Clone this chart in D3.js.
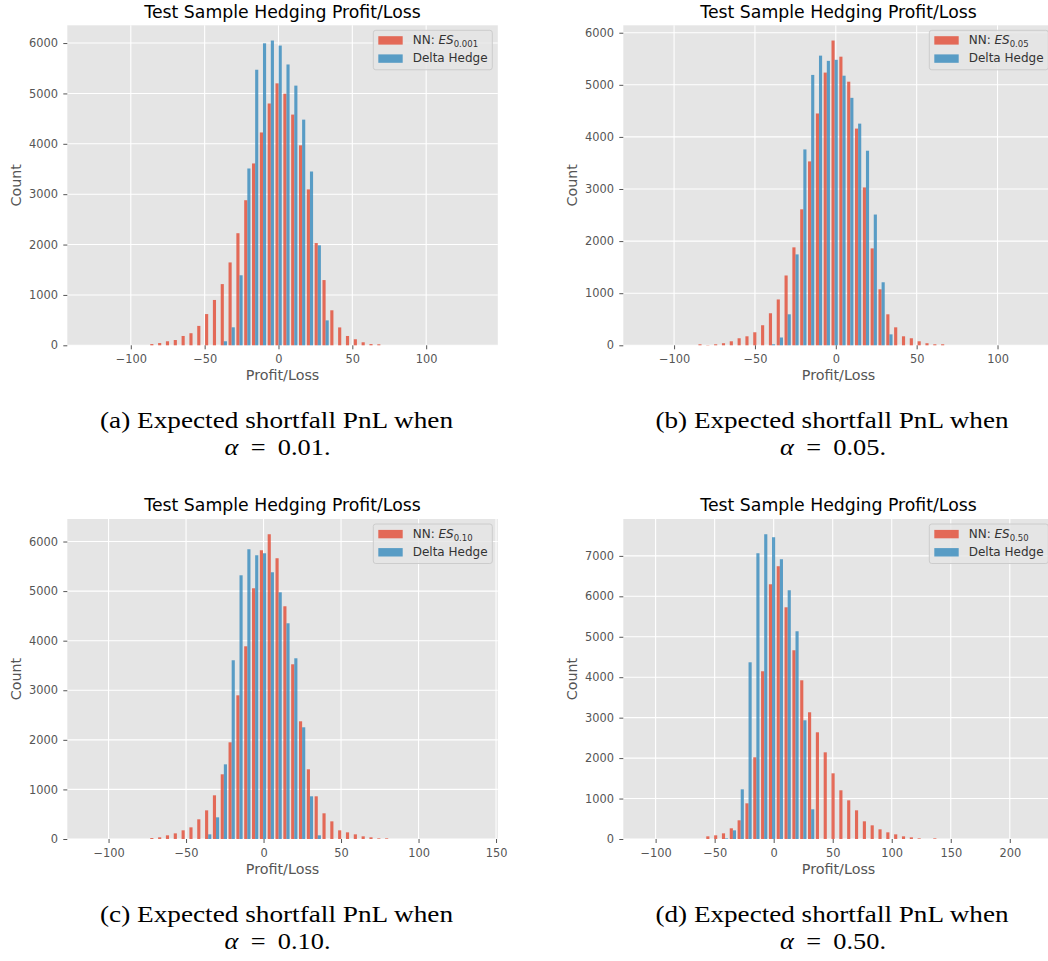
<!DOCTYPE html>
<html><head><meta charset="utf-8">
<script src="https://cdn.jsdelivr.net/npm/d3@7"></script>
<style>html,body{margin:0;padding:0;overflow:hidden;background:#fff}</style>
</head><body>
<svg id="c" width="1048" height="961"></svg>
<script>
// ---------- DATA ----------
const nBins = 50;
const binLo = [-129.75, -119.3, -113.99, -110.8];
const binWidth = [5.3, 4.84, 5.05, 6.63];

const nnA = [0,0,0,0,0,0,0,0,25,45,80,105,185,240,385,620,900,1215,1645,2225,2880,3610,4225,4800,5200,4995,4580,3970,3095,2030,1295,695,355,185,120,60,25,20,0,0,0,0,0,0,0,0,0,0,0,0];
const deltaA = [0,0,0,0,0,0,0,0,0,0,0,0,0,0,0,0,0,80,357,1390,3510,5470,5995,6050,5950,5575,5155,4480,3450,1985,495,0,0,0,0,0,0,0,0,0,0,0,0,0,0,0,0,0,0,0];

const nnB = [0,0,0,0,0,0,0,20,5,20,40,77,135,173,250,385,615,880,1340,1880,2610,3530,4450,5235,5850,5540,5060,4160,3030,1860,1075,595,345,173,135,77,40,20,20,0,0,0,0,0,0,0,0,0,0,0];
const deltaB = [0,0,0,0,0,0,0,0,0,0,0,0,0,0,0,0,20,150,595,1745,3760,5190,5560,5460,5480,5175,4750,4255,3735,2510,1210,210,0,0,0,0,0,0,0,0,0,0,0,0,0,0,0,0,0,0];

const nnC = [0,0,0,0,0,0,0,0,20,34,74,114,175,235,397,578,881,1305,1950,2898,3887,5057,5824,6147,5663,4694,3524,2374,1406,861,518,356,175,134,94,54,34,13,13,0,0,0,0,0,0,0,0,0,0,0];
const deltaC = [0,0,0,0,0,0,0,0,0,0,0,0,0,0,0,94,437,1506,3605,5319,5844,5723,5763,5380,4976,4351,3645,2253,861,74,0,0,0,0,0,0,0,0,0,0,0,0,0,0,0,0,0,0,0,0];

const nnD = [0,0,0,0,0,0,0,0,66,91,140,264,462,882,2020,4147,6298,6744,5729,4666,3924,3133,2638,2143,1624,1204,956,709,437,338,239,165,115,66,41,16,0,16,0,0,0,0,0,0,0,0,0,0,0,0];
const deltaD = [0,0,0,0,0,0,0,0,0,0,16,214,1228,4369,7065,7535,7461,6917,6150,5136,2935,734,0,0,0,0,0,0,0,0,0,0,0,0,0,0,0,0,0,0,0,0,0,0,0,0,0,0,0,0];

const xTicksA = [-100,-50,0,50,100];
const xTicksB = [-100,-50,0,50,100];
const xTicksC = [-100,-50,0,50,100,150];
const xTicksD = [-100,-50,0,50,100,150,200];
const yTicksA = [0,1000,2000,3000,4000,5000,6000];
const yTicksB = [0,1000,2000,3000,4000,5000,6000];
const yTicksC = [0,1000,2000,3000,4000,5000,6000];
const yTicksD = [0,1000,2000,3000,4000,5000,6000,7000];

const titleText = "Test Sample Hedging Profit/Loss";
const xLabel = "Profit/Loss";
const yLabel = "Count";
const legendNN = "NN: ";
const legendES = "ES";
const legendSub = ["0.001","0.05","0.10","0.50"];
const legendDelta = "Delta Hedge";
const captionLetters = ["a","b","c","d"];
const captionText = "Expected shortfall PnL when";
const alphaValues = ["0.01","0.05","0.10","0.50"];

// ---------- LAYOUT ----------
const svg = d3.select("#c");
const W = 430.5, H = 320;
const origins = [[67.3,25.3],[623.3,25.3],[67.3,519],[623.3,519]];
const series = [[nnA,deltaA],[nnB,deltaB],[nnC,deltaC],[nnD,deltaD]];
const xTicks = [xTicksA,xTicksB,xTicksC,xTicksD];
const yTicks = [yTicksA,yTicksB,yTicksC,yTicksD];
const COLORS = ["#E24A33","#348ABD"];
const SANS = "DejaVu Sans, Verdana, sans-serif";
const SERIF = "Liberation Serif, Times New Roman, serif";

series.forEach((s,i)=>{
  const [ox,oy] = origins[i];
  const g = svg.append("g").attr("transform",`translate(${ox},${oy})`);
  const lo = binLo[i], bw = binWidth[i], hi = lo + nBins*bw, span = hi-lo;
  const x = d3.scaleLinear().domain([lo-0.05*span, hi+0.05*span]).range([0,W]);
  const ymax = 1.05*d3.max([...s[0],...s[1]]);
  const y = d3.scaleLinear().domain([0,ymax]).range([H,0]);

  g.append("rect").attr("width",W).attr("height",H).attr("fill","#E5E5E5");
  g.append("g").selectAll("line").data(xTicks[i]).join("line")
    .attr("x1",d=>x(d)).attr("x2",d=>x(d)).attr("y1",0).attr("y2",H)
    .attr("stroke","#fff").attr("stroke-width",1.1);
  g.append("g").selectAll("line").data(yTicks[i]).join("line")
    .attr("y1",d=>y(d)).attr("y2",d=>y(d)).attr("x1",0).attr("x2",W)
    .attr("stroke","#fff").attr("stroke-width",1.1);

  [0,1].forEach(j=>{
    const data = s[j].map((v,k)=>({k,v})).filter(d=>d.v>0);
    const l = d=> lo + d.k*bw + (0.1+0.4*j)*bw;
    const r = d=> lo + d.k*bw + (0.5+0.4*j)*bw;
    g.append("g").selectAll("rect").data(data).join("rect")
      .attr("x",d=>x(l(d))).attr("width",d=>x(r(d))-x(l(d)))
      .attr("y",d=>y(d.v)).attr("height",d=>H-y(d.v))
      .attr("fill",COLORS[j]).attr("fill-opacity",0.8);
  });

  const fmt = d3.format("d");
  const ax = g.append("g").attr("transform",`translate(0,${H})`)
    .call(d3.axisBottom(x).tickValues(xTicks[i]).tickSize(4).tickPadding(5.9).tickFormat(d=>fmt(d).replace("-","\u2212")));
  const ay = g.append("g")
    .call(d3.axisLeft(y).tickValues(yTicks[i]).tickSize(4).tickPadding(5.3).tickFormat(fmt));
  [ax,ay].forEach(a=>{
    a.select(".domain").remove();
    a.selectAll("line").attr("stroke","#555").attr("stroke-width",1);
    a.selectAll("text").attr("fill","#555").style("font-family",SANS).style("font-size","11.4px");
  });

  g.append("text").attr("x",W/2).attr("y",-7.7).attr("text-anchor","middle")
    .style("font-family",SANS).style("font-size","17.3px").attr("fill","#000").text(titleText);
  g.append("text").attr("x",W/2).attr("y",H+35.2).attr("text-anchor","middle")
    .style("font-family",SANS).style("font-size","14.3px").attr("fill","#555").text(xLabel);
  g.append("text").attr("transform",`translate(-46.5,${H/2}) rotate(-90)`).attr("text-anchor","middle")
    .style("font-family",SANS).style("font-size","14.3px").attr("fill","#555").text(yLabel);

  // legend
  const lg = g.append("g").attr("transform","translate(306,5)");
  lg.append("rect").attr("width",119).attr("height",39.5).attr("rx",2.5)
    .attr("fill","#E5E5E5").attr("fill-opacity",0.8).attr("stroke","#CCCCCC").attr("stroke-width",1);
  [0,1].forEach(j=>{
    lg.append("rect").attr("x",5).attr("y",5.9+18.2*j).attr("width",24.4).attr("height",8.4)
      .attr("fill",COLORS[j]).attr("fill-opacity",0.8);
  });
  const t1 = lg.append("text").attr("x",39.4).attr("y",14.1)
    .style("font-family",SANS).style("font-size","12px").attr("fill","#333");
  t1.append("tspan").text(legendNN);
  t1.append("tspan").style("font-style","italic").text(legendES);
  t1.append("tspan").attr("dy",2.6).style("font-size","8.5px").text(legendSub[i]);
  lg.append("text").attr("x",39.4).attr("y",32.2)
    .style("font-family",SANS).style("font-size","12px").attr("fill","#333").text(legendDelta);
});

// captions
const capCx = [276.5, 832];
const capBase = [428, 921.7];
captionLetters.forEach((c,i)=>{
  const cx = capCx[i%2], by = capBase[Math.floor(i/2)];
  svg.append("text").attr("x",cx).attr("y",by).attr("text-anchor","middle")
    .attr("textLength",353).attr("lengthAdjust","spacingAndGlyphs")
    .style("font-family",SERIF).style("font-size","23px").attr("fill","#000")
    .text(`(${c}) ${captionText}`);
  const t = svg.append("text").attr("x",cx+1).attr("y",by+27).attr("text-anchor","middle")
    .attr("textLength",106).attr("lengthAdjust","spacingAndGlyphs")
    .style("font-family",SERIF).style("font-size","23px").attr("fill","#000")
    .attr("word-spacing","5px");
  t.append("tspan").style("font-style","italic").text("\u03B1");
  t.append("tspan").text(` = ${alphaValues[i]}.`);
});
</script>
</body></html>
